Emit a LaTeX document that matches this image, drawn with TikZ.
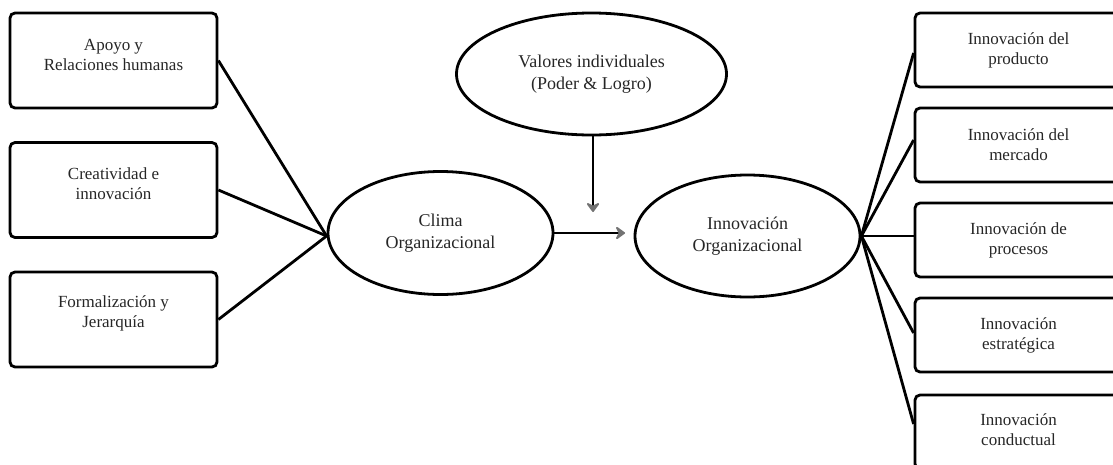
\documentclass[tikz,border=0pt]{standalone}
\usepackage{fontspec}
\setmainfont{Liberation Serif}
\usetikzlibrary{shapes.geometric,arrows.meta}

\tikzset{
  boxshape/.style={draw, line width=2.8pt, rounded corners=5pt, minimum width=207pt,
    minimum height=#1, inner sep=0pt},
  boxshape/.default=95pt,
  boxtext/.style={align=center, text=black!85, font=\fontsize{17}{20}\selectfont, inner sep=0pt},
  oval/.style={draw, line width=2.8pt, ellipse, inner sep=0pt, align=center,
    text=black!85, font=\fontsize{18}{22}\selectfont},
  link/.style={line width=2.8pt},
  grayarrow/.style={line width=2.8pt, -{Stealth[length=11pt, width=16pt, inset=4pt, round, color=black!55]}}
}

\begin{document}
\begin{tikzpicture}[x=1pt, y=-1pt]
  \useasboundingbox (0,0) rectangle (1113,464);
  \clip (0,0) rectangle (1113,464);

  % left-hand climate dimensions
  \node[boxshape] (a1) at (113.5,60.5) {};
  \node[boxtext] (a1t) at (113.5,55) {Apoyo y\\Relaciones humanas};
  \node[boxshape] (a2) at (113.5,190) {};
  \node[boxtext] (a2t) at (113.5,184) {Creatividad e\\innovación};
  \node[boxshape] (a3) at (113.5,319.5) {};
  \node[boxtext] (a3t) at (113.5,313.5) {Formalización y\\Jerarquía};

  % central ovals
  \node[oval, minimum width=225pt, minimum height=123pt] (clima) at (440.5,233)
    {Clima\\Organizacional};
  \node[oval, minimum width=225pt, minimum height=122pt] (innov) at (747.5,236)
    {Innovación\\Organizacional};
  \node[oval, minimum width=270pt, minimum height=122pt] (valores) at (591.5,74)
    {Valores individuales\\(Poder \& Logro)};

  % right-hand innovation types
  \node[boxshape=74pt] (b1) at (1018.5,50) {};
  \node[boxtext] (b1t) at (1018.5,50) {Innovación del\\producto};
  \node[boxshape=74pt] (b2) at (1018.5,145) {};
  \node[boxtext] (b2t) at (1018.5,145) {Innovación del\\mercado};
  \node[boxshape=74pt] (b3) at (1018.5,240) {};
  \node[boxtext] (b3t) at (1018.5,240) {Innovación de\\procesos};
  \node[boxshape=74pt] (b4) at (1018.5,335) {};
  \node[boxtext] (b4t) at (1018.5,335) {Innovación\\estratégica};
  \node[boxshape=74pt] (b5) at (1018.5,432) {};
  \node[boxtext] (b5t) at (1018.5,430) {Innovación\\conductual};

  % connectors
  \coordinate (cw) at ([yshift=-3pt]clima.west);
  \draw[link] (a1.east) -- (cw);
  \draw[link] (a2.east) -- (cw);
  \draw[link] (a3.east) -- (cw);

  \coordinate (ie) at (innov.east);
  \draw[link] (ie) -- ([yshift=-3pt]b1.west);
  \draw[link] (ie) -- ([yshift=5pt]b2.west);
  \draw[link] (ie) -- (ie -| b3.west);
  \draw[link] (ie) -- ([yshift=2pt]b4.west);
  \draw[link] (ie) -- ([yshift=8pt]b5.west);

  \coordinate (tipx) at (625,233);
  \coordinate (tipy) at (593,212);
  \draw[grayarrow] (clima.east) -- (tipx);
  \draw[grayarrow] (valores.south -| tipy) -- (tipy);
\end{tikzpicture}
\end{document}
